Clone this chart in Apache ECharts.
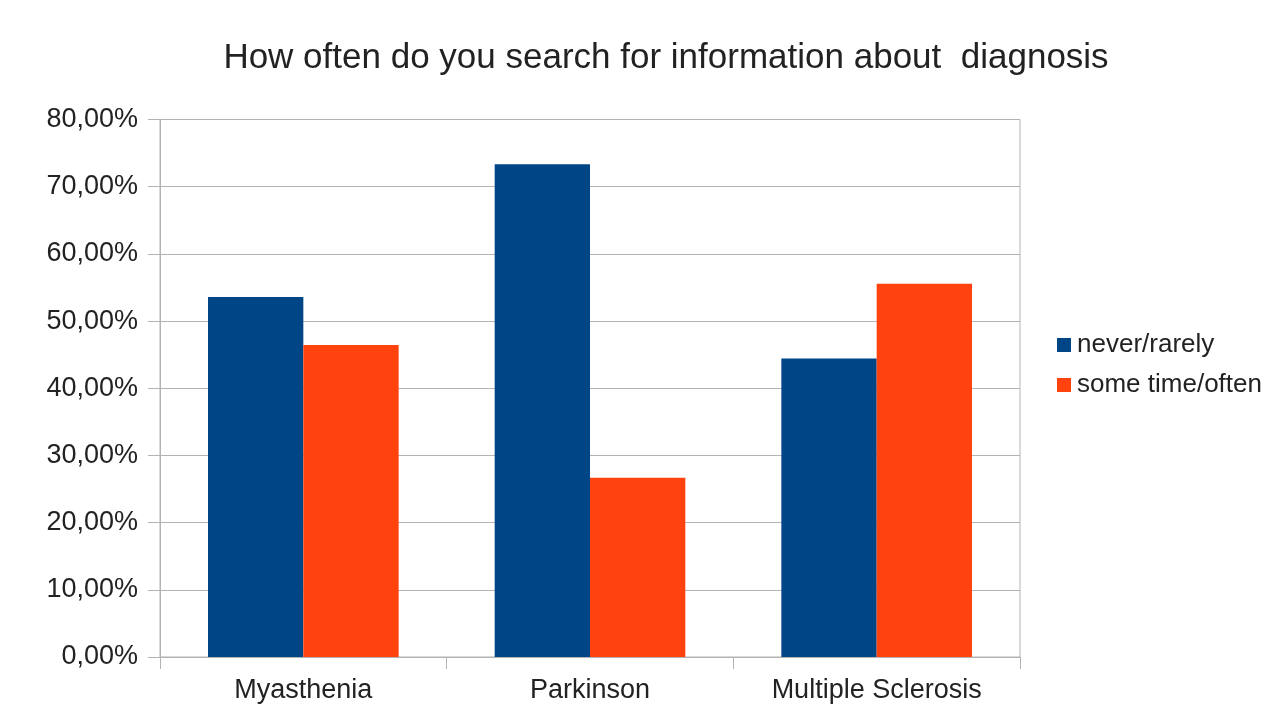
<!DOCTYPE html>
<html>
<head>
<meta charset="utf-8">
<script src="https://cdn.jsdelivr.net/npm/echarts@6/dist/echarts.min.js"></script>
<style>html,body{margin:0;padding:0;background:#fff}#c{width:1277px;height:704px}</style>
</head>
<body>
<div id="c"></div>
<script>
const categories = ['Myasthenia', 'Parkinson', 'Multiple Sclerosis'];
const seriesNames = ['never/rarely', 'some time/often'];
const neverRarely = [53.57, 73.33, 44.44];
const someTimeOften = [46.43, 26.67, 55.56];
const titleText = 'How often do you search for information about  diagnosis';

const FONT = '"Liberation Sans", Arial, sans-serif';
const chart = echarts.init(document.getElementById('c'), null, {renderer: 'canvas'});
chart.setOption({
  backgroundColor: '#ffffff',
  animation: false,
  title: {
    text: titleText,
    left: 661,
    textAlign: 'center',
    top: 36,
    textStyle: {fontFamily: FONT, fontSize: 35, fontWeight: 'normal', color: '#222'}
  },
  legend: {
    orient: 'vertical',
    left: 1052,
    top: 327,
    itemWidth: 14,
    itemHeight: 14,
    itemGap: 14,
    icon: 'rect',
    textStyle: {fontFamily: FONT, fontSize: 26, color: '#222', padding: [0, 0, 0, 1]},
    data: seriesNames
  },
  grid: {
    left: 160, right: 257, top: 119.5, bottom: 47,
    show: true, borderColor: '#b3b3b3', borderWidth: 1
  },
  xAxis: {
    type: 'category',
    data: categories,
    axisLine: {lineStyle: {color: '#b3b3b3'}},
    axisTick: {show: true, length: 12, lineStyle: {color: '#b3b3b3'}},
    axisLabel: {fontFamily: FONT, fontSize: 27, color: '#222', margin: 20}
  },
  yAxis: {
    type: 'value',
    min: 0, max: 80, interval: 10,
    axisLine: {show: true, lineStyle: {color: '#b3b3b3'}},
    axisTick: {show: true, length: 12, lineStyle: {color: '#b3b3b3'}},
    splitLine: {lineStyle: {color: '#b3b3b3'}},
    axisLabel: {
      fontFamily: FONT, fontSize: 27, color: '#222', margin: 22,
      formatter: v => v.toFixed(2).replace('.', ',') + '%'
    }
  },
  series: [
    {name: seriesNames[0], type: 'bar', data: neverRarely, itemStyle: {color: '#004586'}, barGap: '0%', barCategoryGap: '33.5%'},
    {name: seriesNames[1], type: 'bar', data: someTimeOften, itemStyle: {color: '#ff420e'}, barGap: '0%', barCategoryGap: '33.5%'}
  ]
});
</script>
</body>
</html>
